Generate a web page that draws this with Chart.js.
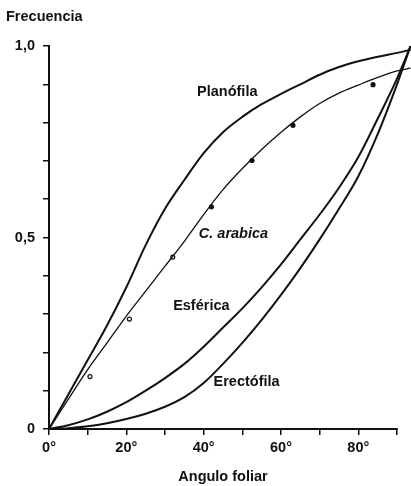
<!DOCTYPE html>
<html>
<head>
<meta charset="utf-8">
<script src="https://cdn.jsdelivr.net/npm/chart.js@4.4.1/dist/chart.umd.min.js"></script>
<style>
  html, body { margin: 0; padding: 0; background: #fff; }
</style>
</head>
<body>
<canvas id="chart" width="411" height="486"></canvas>
<script>
// Ángulo foliar (grados) y frecuencia acumulada de cada distribución
const angulos    = [0, 5, 10, 15, 20, 25, 30, 35, 40, 45, 50, 55, 60, 65, 70, 75, 80, 85, 90, 93.5];
const planofila  = [0, 0.09, 0.18, 0.27, 0.37, 0.48, 0.575, 0.65, 0.72, 0.775, 0.815, 0.848, 0.875, 0.9, 0.925, 0.945, 0.96, 0.972, 0.982, 0.99];
const cArabica   = [0, 0.078, 0.155, 0.225, 0.295, 0.36, 0.425, 0.49, 0.56, 0.625, 0.68, 0.73, 0.775, 0.815, 0.85, 0.877, 0.898, 0.918, 0.935, 0.942];
const esferica   = [0, 0.01, 0.025, 0.045, 0.07, 0.1, 0.133, 0.17, 0.215, 0.265, 0.315, 0.37, 0.43, 0.495, 0.56, 0.63, 0.71, 0.81, 0.915, 1.0];
const erectofila = [0, 0.002, 0.007, 0.015, 0.026, 0.04, 0.058, 0.083, 0.12, 0.17, 0.225, 0.285, 0.35, 0.42, 0.495, 0.575, 0.66, 0.77, 0.9, 1.0];

// Medidas de C. arabica
const medidasAngulo     = [10.6, 20.8, 32.0, 42.0, 52.5, 63.1, 83.8];
const medidasFrecuencia = [0.137, 0.287, 0.449, 0.580, 0.701, 0.793, 0.899];

// Etiquetas de los ejes
const etiquetasX = [0, 20, 40, 60, 80];
const etiquetasY = { 0: '0', 5: '0,5', 10: '1,0' };
const nombres = ['Planófila', 'C. arabica', 'Esférica', 'Erectófila'];

const FUENTE = "'Liberation Sans', Arial, Helvetica, sans-serif";
const NEGRO = '#111';
const ANGULO_MAX = 90;

Chart.defaults.font.family = FUENTE;
Chart.defaults.color = NEGRO;

function serie(valores) {
  return angulos.map((a, i) => ({ x: a, y: valores[i] }));
}

function curva(valores, ancho) {
  return {
    data: serie(valores),
    showLine: true,
    borderColor: NEGRO,
    borderWidth: ancho,
    pointRadius: 0,
    cubicInterpolationMode: 'monotone'
  };
}

// posición de cada nombre en coordenadas del gráfico
const posNombres = [
  { x: 46.1, y: 0.880, font: 'bold 14.5px ' + FUENTE },
  { x: 47.7, y: 0.510, font: 'italic bold 14.5px ' + FUENTE },
  { x: 39.4, y: 0.320, font: 'bold 14.5px ' + FUENTE },
  { x: 51.1, y: 0.122, font: 'bold 14.5px ' + FUENTE }
];

// eje X dibujado solo hasta 90°, las curvas siguen hasta el borde
const ejeX = {
  id: 'ejeX',
  beforeDatasetsDraw(chart) {
    const { ctx, scales: { x, y } } = chart;
    const y0 = y.getPixelForValue(0);
    ctx.save();
    ctx.strokeStyle = NEGRO;
    ctx.lineWidth = 2;
    ctx.beginPath();
    ctx.moveTo(x.getPixelForValue(0) - 1, y0);
    ctx.lineTo(x.getPixelForValue(ANGULO_MAX) + 0.75, y0);
    ctx.stroke();
    ctx.restore();
  }
};

const textos = {
  id: 'textos',
  afterDatasetsDraw(chart) {
    const { ctx, scales: { x, y } } = chart;
    ctx.save();
    ctx.fillStyle = NEGRO;
    ctx.textAlign = 'center';
    ctx.textBaseline = 'middle';
    nombres.forEach((n, i) => {
      const p = posNombres[i];
      ctx.font = p.font;
      ctx.fillText(n, x.getPixelForValue(p.x), y.getPixelForValue(p.y));
    });
    // título del eje X centrado sobre 0°–90°
    ctx.font = 'bold 14.5px ' + FUENTE;
    ctx.fillText('Angulo foliar', x.getPixelForValue(ANGULO_MAX / 2), x.bottom - 9);
    ctx.textAlign = 'left';
    ctx.textBaseline = 'alphabetic';
    ctx.fillText('Frecuencia', 6, 21);
    ctx.restore();
  }
};

const puntos = {
  data: medidasAngulo.map((a, i) => ({ x: a, y: medidasFrecuencia[i] })),
  showLine: false,
  pointRadius: 2,
  borderWidth: 1.2,
  borderColor: NEGRO,
  backgroundColor: medidasAngulo.map((a, i) => i < 3 ? '#fff' : NEGRO)
};

const chart = new Chart(document.getElementById('chart'), {
  type: 'scatter',
  data: {
    datasets: [
      curva(planofila, 2),
      curva(cArabica, 1.3),
      curva(esferica, 2),
      curva(erectofila, 2),
      puntos
    ]
  },
  options: {
    responsive: false,
    animation: false,
    devicePixelRatio: 1,
    layout: { autoPadding: false, padding: { top: 46, right: 0, left: 0, bottom: 0 } },
    plugins: { legend: { display: false }, tooltip: { enabled: false } },
    scales: {
      x: {
        type: 'linear',
        min: 0, max: 93.62,
        afterFit: (s) => { s.height = 57; s.paddingLeft = 0; s.paddingRight = 0; },
        border: { display: false },
        grid: { drawOnChartArea: false, color: NEGRO, lineWidth: 1.5, tickLength: 6 },
        afterBuildTicks: (s) => { s.ticks = s.ticks.filter(t => t.value <= ANGULO_MAX); },
        ticks: {
          stepSize: 10, autoSkip: false, maxRotation: 0, padding: 4, includeBounds: false,
          font: { size: 14.5, weight: 'bold' },
          callback: (v) => etiquetasX.includes(v) ? v + '°' : ''
        }
      },
      y: {
        type: 'linear',
        min: 0, max: 1,
        afterFit: (s) => { s.width = 49; },
        border: { color: NEGRO, width: 2 },
        grid: { drawOnChartArea: false, color: NEGRO, lineWidth: 1.5, tickLength: 6 },
        ticks: {
          stepSize: 0.1, autoSkip: false, padding: 8,
          font: { size: 14.5, weight: 'bold' },
          callback: (v) => etiquetasY[Math.round(v * 10)] || ''
        }
      }
    }
  },
  plugins: [ejeX, textos]
});

// el área debe llegar al borde derecho del lienzo
const falta = chart.width - chart.chartArea.right;
if (falta > 0.5) {
  chart.options.layout.padding.right = -falta;
  chart.update();
}
</script>
</body>
</html>
